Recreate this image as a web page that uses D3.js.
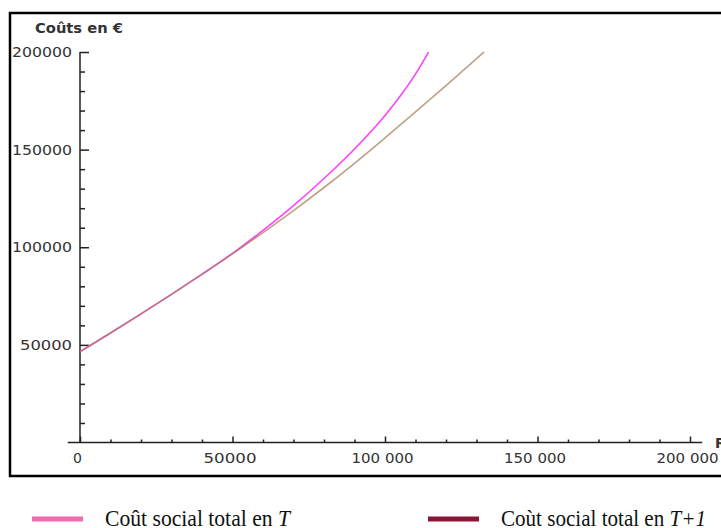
<!DOCTYPE html>
<html>
<head>
<meta charset="utf-8">
<script src="https://cdn.jsdelivr.net/npm/d3@7"></script>
<style>
  body { margin: 0; background: #fff; }
  svg { display: block; }
</style>
</head>
<body>
<svg id="chart" width="721" height="528"></svg>
<script>
// data (€)
const revenusT = [0, 10000, 20000, 30000, 40000, 50000, 60000, 70000, 80000, 90000, 100000, 105000, 110000, 114300];
const coutsT = [46500, 56100, 65900, 75900, 86200, 96900, 108600, 121300, 135200, 150300, 167500, 177500, 188700, 200000];
const revenusT1 = [0, 10000, 20000, 30000, 40000, 50000, 60000, 70000, 80000, 90000, 100000, 110000, 120000, 132500];
const coutsT1 = [46500, 56100, 65900, 75900, 86100, 96600, 107500, 118800, 130600, 143000, 156000, 169300, 182800, 200000];

const xMajor = [0, 50000, 100000, 150000, 200000];
const xLabels = ["0", "50000", "100 000", "150 000", "200 000"];
const yMajor = [50000, 100000, 150000, 200000];
const yLabels = ["50000", "100000", "150000", "200000"];
const minorTicks = d3.range(10000, 200001, 10000);

const legendNames = ["Coût social total en ", "Coùt social total en "];
const legendVars = ["T", "T+1"];

const svg = d3.select("#chart");

// frame round the plot
svg.append("rect")
    .attr("x", 10).attr("y", 13)
    .attr("width", 730).attr("height", 463)
    .attr("fill", "none").attr("stroke", "#000").attr("stroke-width", 2.5);

var x = d3.scaleLinear().domain([0, 200000]).range([80, 690]);
var y = d3.scaleLinear().domain([0, 200000]).range([442.5, 52]);

// axis lines
svg.append("line")
    .attr("x1", x(-4000)).attr("x2", x(204000))
    .attr("y1", y(0)).attr("y2", y(0))
    .attr("stroke", "#222").attr("stroke-width", 1.5);
svg.append("line")
    .attr("x1", x(0)).attr("x2", x(0))
    .attr("y1", y(0)).attr("y2", y(200000))
    .attr("stroke", "#222").attr("stroke-width", 1.5);

// x ticks
let xMinorAxis = d3.axisBottom(x).tickValues(minorTicks.filter(d => d % 50000 != 0))
    .tickSizeInner(-3).tickSizeOuter(0).tickFormat("");
let xMajorAxis = d3.axisBottom(x).tickValues(xMajor)
    .tickSizeInner(-6).tickSizeOuter(0).tickPadding(20)
    .tickFormat((d, i) => xLabels[i]);
let gx1 = svg.append("g").attr("transform", "translate(0," + y(0) + ")").call(xMinorAxis);
let gx2 = svg.append("g").attr("transform", "translate(0," + y(0) + ")").call(xMajorAxis);
[gx1, gx2].forEach(g => {
    g.select(".domain").remove();
    g.selectAll("line").attr("stroke", "#222").attr("stroke-width", 1.5);
});
gx2.selectAll("text")
    .attr("dy", 0).attr("dx", -3)
    .attr("fill", "#333")
    .style("font-family", "DejaVu Sans").style("font-size", "14px")
    .attr("textLength", (d, i) => xLabels[i].length == 1 ? null : (xLabels[i].length == 5 ? 53 : 62))
    .attr("lengthAdjust", "spacingAndGlyphs");

// y ticks
let yMinorAxis = d3.axisLeft(y).tickValues(minorTicks.filter(d => d % 50000 != 0))
    .tickSizeInner(-5).tickSizeOuter(0).tickFormat("");
let yMajorAxis = d3.axisLeft(y).tickValues(yMajor)
    .tickSizeInner(-9).tickSizeOuter(0).tickPadding(8)
    .tickFormat((d, i) => yLabels[i]);
let gy1 = svg.append("g").attr("transform", "translate(" + x(0) + ",0)").call(yMinorAxis);
let gy2 = svg.append("g").attr("transform", "translate(" + x(0) + ",0)").call(yMajorAxis);
[gy1, gy2].forEach(g => {
    g.select(".domain").remove();
    g.selectAll("line").attr("stroke", "#222").attr("stroke-width", 1.5);
});
gy2.selectAll("text")
    .attr("fill", "#333")
    .style("font-family", "DejaVu Sans").style("font-size", "14px")
    .attr("textLength", (d, i) => yLabels[i].length == 5 ? 52 : 60)
    .attr("lengthAdjust", "spacingAndGlyphs");

// axis titles
svg.append("text")
    .attr("x", 35).attr("y", 33)
    .attr("fill", "#333")
    .style("font-family", "DejaVu Sans").style("font-size", "14px").style("font-weight", "bold")
    .attr("textLength", 88).attr("lengthAdjust", "spacingAndGlyphs")
    .text("Coûts en €");
svg.append("text")
    .attr("x", 715).attr("y", 448)
    .attr("fill", "#333")
    .style("font-family", "DejaVu Sans").style("font-size", "14px").style("font-weight", "bold")
    .text("R");

// curves
let lineGen = d3.line()
    .x(d => x(d[0]))
    .y(d => y(d[1]))
    .curve(d3.curveMonotoneX);

let dataT = revenusT.map((d, i) => [d, coutsT[i]]);
let dataT1 = revenusT1.map((d, i) => [d, coutsT1[i]]);

svg.append("path")
    .attr("d", lineGen(dataT))
    .attr("fill", "none").attr("stroke", "#ff40ff").attr("stroke-width", 1.6);
svg.append("path")
    .attr("d", lineGen(dataT1))
    .attr("fill", "none").attr("stroke", "#a8825c").attr("stroke-width", 1.6)
    .attr("stroke-opacity", 0.75);

// legend
let legendColors = ["#f06ab4", "#8b1535"];
let legendX = [32, 428];
let legendWidths = [185, 205];
legendNames.forEach(function(name, i) {
    svg.append("line")
        .attr("x1", legendX[i]).attr("x2", legendX[i] + 51)
        .attr("y1", 519).attr("y2", 519)
        .attr("stroke", legendColors[i]).attr("stroke-width", 5);
    let t = svg.append("text")
        .attr("x", legendX[i] + 73).attr("y", 526)
        .attr("fill", "#111")
        .style("font-family", "Liberation Serif").style("font-size", "24px")
        .attr("textLength", legendWidths[i]).attr("lengthAdjust", "spacingAndGlyphs");
    t.append("tspan").text(name);
    t.append("tspan").style("font-style", "italic").text(legendVars[i]);
});
</script>
</body>
</html>
